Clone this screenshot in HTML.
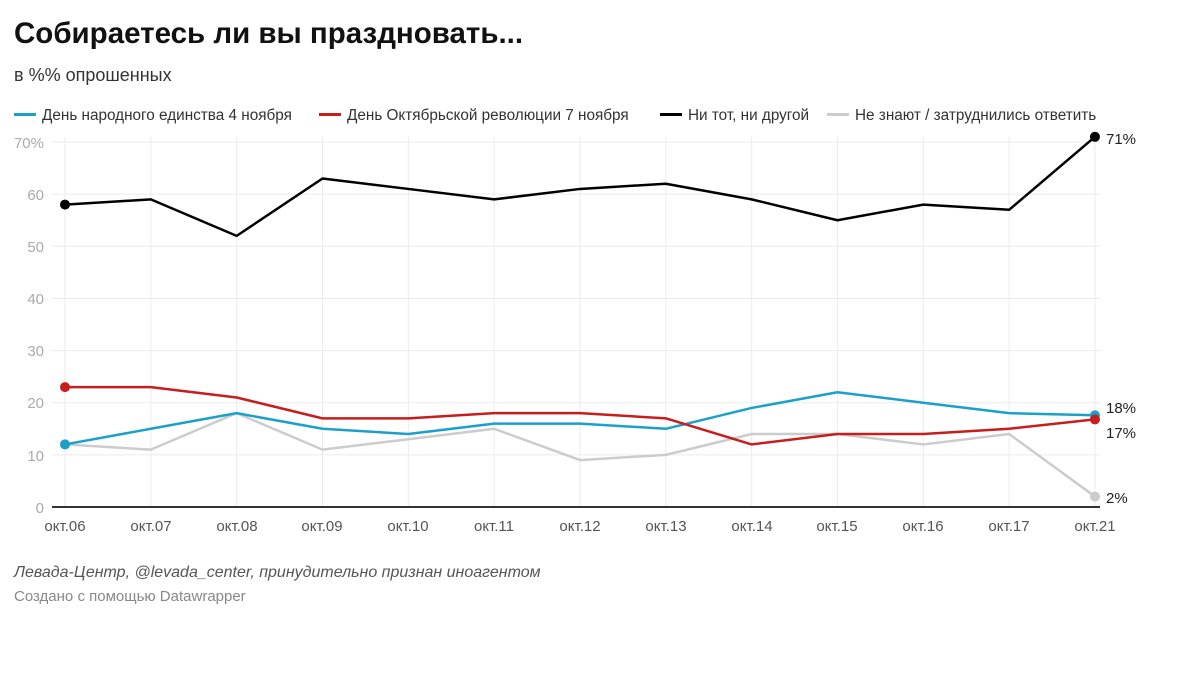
<!DOCTYPE html>
<html><head><meta charset="utf-8"><style>
body{margin:0;background:#fff;width:1200px;height:672px;overflow:hidden;font-family:"Liberation Sans","DejaVu Sans",sans-serif}
svg text{font-family:"Liberation Sans","DejaVu Sans",sans-serif}
</style></head><body>
<svg id="s" width="1200" height="672" xmlns="http://www.w3.org/2000/svg">
<text x="14" y="43" font-size="29.5" font-weight="bold" fill="#111">Собираетесь ли вы праздновать...</text>
<text x="14" y="81" font-size="18" fill="#333">в %% опрошенных</text>
<g font-size="15.3" fill="#333">
<rect x="14" y="113" width="22" height="3" fill="#1ba1c9"/><text x="42" y="120">День народного единства 4 ноября</text>
<rect x="319" y="113" width="22" height="3" fill="#c71e1d"/><text x="347" y="120">День Октябрьской революции 7 ноября</text>
<rect x="660" y="113" width="22" height="3" fill="#000"/><text x="688" y="120">Ни тот, ни другой</text>
<rect x="827" y="113" width="22" height="3" fill="#ccc"/><text x="855" y="120">Не знают / затруднились ответить</text>
</g>
<g id="grid" stroke="#ebebeb" stroke-width="1"></g>
<g font-size="15" fill="#aaa" text-anchor="end">
<text x="44" y="148">70%</text><text x="44" y="200">60</text><text x="44" y="252">50</text><text x="44" y="304">40</text><text x="44" y="356">30</text><text x="44" y="408">20</text><text x="44" y="461">10</text><text x="44" y="513">0</text>
</g>
<g font-size="15" fill="#555" text-anchor="middle">
<text x="65" y="531">окт.06</text><text x="151" y="531">окт.07</text><text x="237" y="531">окт.08</text><text x="322" y="531">окт.09</text><text x="408" y="531">окт.10</text><text x="494" y="531">окт.11</text><text x="580" y="531">окт.12</text><text x="666" y="531">окт.13</text><text x="752" y="531">окт.14</text><text x="837" y="531">окт.15</text><text x="923" y="531">окт.16</text><text x="1009" y="531">окт.17</text><text x="1095" y="531">окт.21</text>
</g>
<line x1="52" y1="507" x2="1100" y2="507" stroke="#333" stroke-width="2"/>
<g id="lines"></g>
<g font-size="15" fill="#222">
<text x="1106" y="144">71%</text><text x="1106" y="413">18%</text><text x="1106" y="438">17%</text><text x="1106" y="503">2%</text>
</g>
<text x="14" y="577" font-size="16" font-style="italic" fill="#555">Левада-Центр, @levada_center, принудительно признан иноагентом</text>
<text x="14" y="601" font-size="15" fill="#888">Создано с помощью Datawrapper</text>
</svg>
<script>
var X=function(i){return 65+i*85.83},Y=function(v){return 507-5.214*v};
var g=document.getElementById('grid'),L=document.getElementById('lines'),ns='http://www.w3.org/2000/svg';
function el(t,a,p){var e=document.createElementNS(ns,t);for(var k in a)e.setAttribute(k,a[k]);p.appendChild(e);return e}
for(var v=10;v<=70;v+=10)el('line',{x1:52,x2:1100,y1:Y(v),y2:Y(v)},g);
for(var i=0;i<13;i++)el('line',{x1:X(i),x2:X(i),y1:Y(70)-5,y2:507},g);
var S=[['#ccc',[12,11,18,11,13,15,9,10,14,14,12,14,2]],
['#1ba1c9',[12,15,18,15,14,16,16,15,19,22,20,18,17.6]],
['#c71e1d',[23,23,21,17,17,18,18,17,12,14,14,15,16.8]],
['#000',[58,59,52,63,61,59,61,62,59,55,58,57,71]]];
S.forEach(function(s){var p=s[1].map(function(v,i){return X(i)+','+Y(v)}).join(' ');
el('polyline',{points:p,fill:'none',stroke:s[0],'stroke-width':2.5,'stroke-linejoin':'round'},L);
el('circle',{cx:X(0),cy:Y(s[1][0]),r:5,fill:s[0]},L);el('circle',{cx:X(12),cy:Y(s[1][12]),r:5,fill:s[0]},L);});
</script>
</body></html>
